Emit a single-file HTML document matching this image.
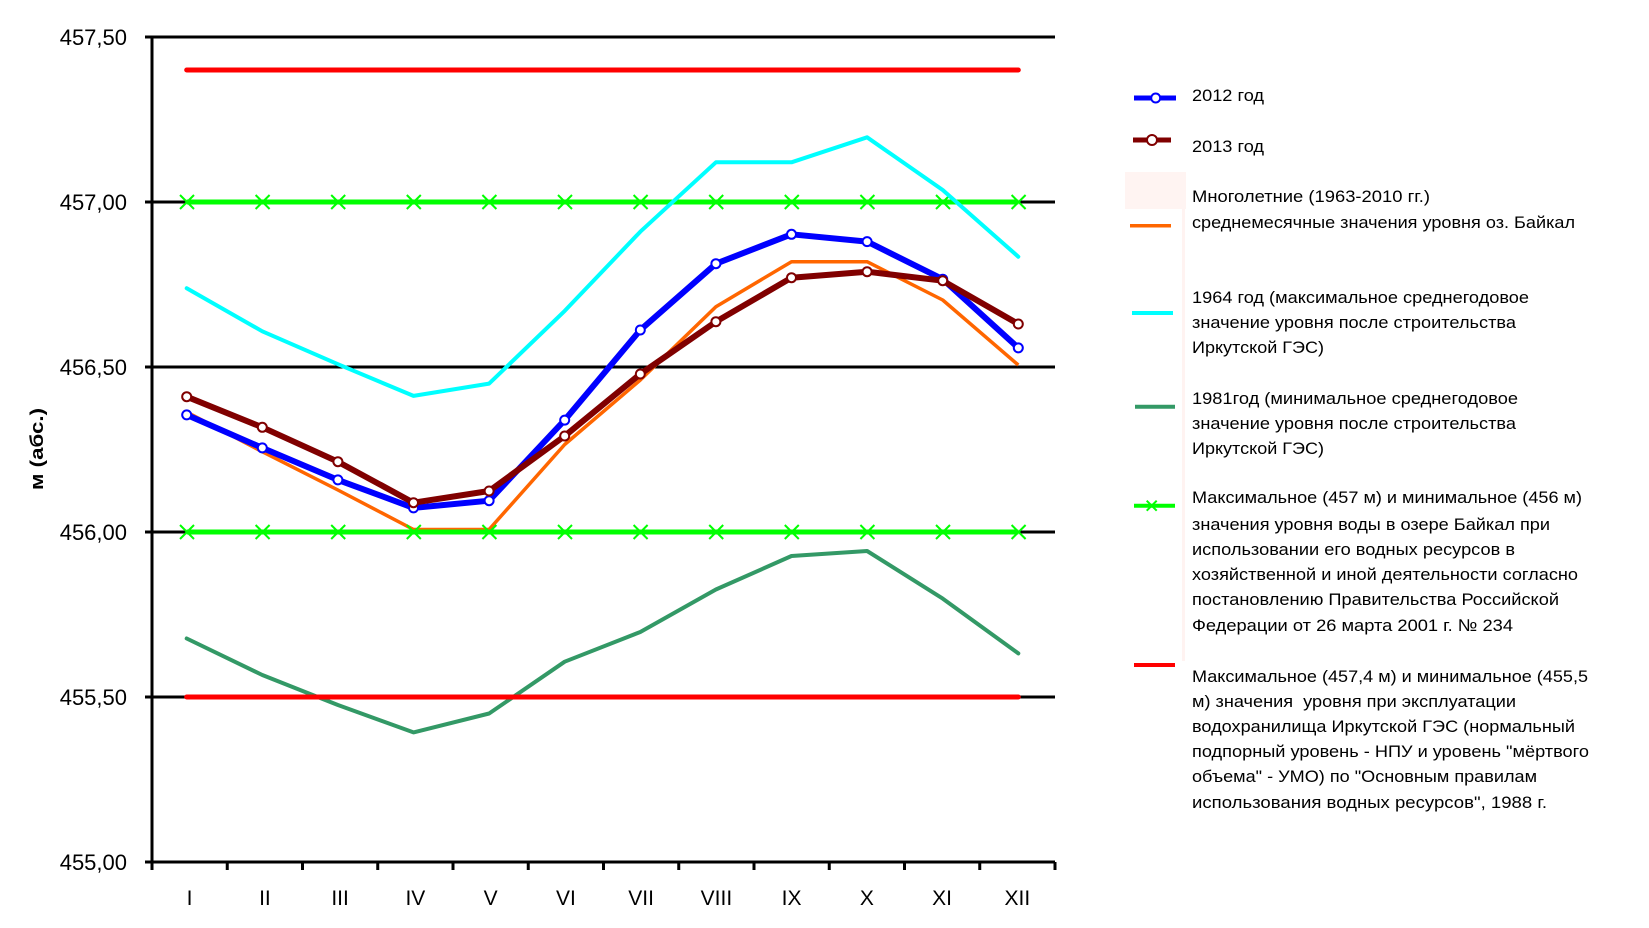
<!DOCTYPE html>
<html>
<head>
<meta charset="utf-8">
<style>
html,body{margin:0;padding:0;background:#fff;}
svg{display:block;}
text{font-family:"Liberation Sans",Arial,sans-serif;fill:#000;}
</style>
</head>
<body>
<svg width="1649" height="928" viewBox="0 0 1649 928" xmlns="http://www.w3.org/2000/svg">
<rect x="0" y="0" width="1649" height="928" fill="#fff"/>

<!-- gridlines -->
<g stroke="#000" stroke-width="3">
<line x1="145" y1="37" x2="1055" y2="37"/>
<line x1="145" y1="202" x2="1055" y2="202"/>
<line x1="145" y1="367" x2="1055" y2="367"/>
<line x1="145" y1="532" x2="1055" y2="532"/>
<line x1="145" y1="697" x2="1055" y2="697"/>
<line x1="145" y1="862" x2="1055" y2="862"/>
<line x1="152" y1="36" x2="152" y2="870"/>
</g>
<!-- x ticks -->
<g stroke="#000" stroke-width="3">
<line x1="152" y1="862" x2="152" y2="870"/>
<line x1="227.25" y1="862" x2="227.25" y2="870"/>
<line x1="302.5" y1="862" x2="302.5" y2="870"/>
<line x1="377.75" y1="862" x2="377.75" y2="870"/>
<line x1="453" y1="862" x2="453" y2="870"/>
<line x1="528.25" y1="862" x2="528.25" y2="870"/>
<line x1="603.5" y1="862" x2="603.5" y2="870"/>
<line x1="678.75" y1="862" x2="678.75" y2="870"/>
<line x1="754" y1="862" x2="754" y2="870"/>
<line x1="829.25" y1="862" x2="829.25" y2="870"/>
<line x1="904.5" y1="862" x2="904.5" y2="870"/>
<line x1="979.75" y1="862" x2="979.75" y2="870"/>
<line x1="1055" y1="862" x2="1055" y2="870"/>
</g>

<!-- y tick labels -->
<g font-size="22" text-anchor="end">
<text x="127" y="45">457,50</text>
<text x="127" y="210">457,00</text>
<text x="127" y="375">456,50</text>
<text x="127" y="540">456,00</text>
<text x="127" y="705">455,50</text>
<text x="127" y="870">455,00</text>
</g>

<!-- x labels -->
<g font-size="21" text-anchor="middle">
<text x="189.6" y="905">I</text>
<text x="264.9" y="905">II</text>
<text x="340.1" y="905">III</text>
<text x="415.4" y="905">IV</text>
<text x="490.6" y="905">V</text>
<text x="565.9" y="905">VI</text>
<text x="641.1" y="905">VII</text>
<text x="716.4" y="905">VIII</text>
<text x="791.6" y="905">IX</text>
<text x="866.9" y="905">X</text>
<text x="942.1" y="905">XI</text>
<text x="1017.4" y="905">XII</text>
</g>

<!-- y axis title -->
<text x="0" y="0" font-size="18" font-weight="bold" text-anchor="middle" transform="translate(43,449) rotate(-90)" textLength="82" lengthAdjust="spacingAndGlyphs">м (абс.)</text>

<!-- 1981 -->
<polyline fill="none" stroke="#339966" stroke-width="4" stroke-linejoin="round" stroke-linecap="round"
points="186.7,638.5 262.3,675 337.9,705 413.5,732.4 489.1,713.5 564.7,661.7 640.3,632 715.9,589.5 791.5,556 867.1,551 942.7,598.6 1018.3,653.4"/>

<!-- red limits -->
<g stroke="#ff0000" stroke-width="5" stroke-linecap="round">
<line x1="186.7" y1="70" x2="1018.3" y2="70"/>
<line x1="186.7" y1="697" x2="1018.3" y2="697"/>
</g>

<!-- orange -->
<polyline fill="none" stroke="#ff6600" stroke-width="3.5" stroke-linejoin="round"
points="186.7,412 262.3,451.7 337.9,490 413.5,529.5 489.1,529.5 564.7,444.5 640.3,380 715.9,306.7 791.5,261.7 867.1,261.7 942.7,300 1018.3,365"/>

<!-- lime -->
<g stroke="#00ff00" stroke-width="5">
<line x1="186.7" y1="202" x2="1018.3" y2="202"/>
<line x1="186.7" y1="532" x2="1018.3" y2="532"/>
</g>
<g stroke="#00ff00" stroke-width="2" fill="none" id="xm">
<path d="M180,195 l14,14 M194,195 l-14,14"/>
<path d="M255.6,195 l14,14 M269.6,195 l-14,14"/>
<path d="M331.2,195 l14,14 M345.2,195 l-14,14"/>
<path d="M406.8,195 l14,14 M420.8,195 l-14,14"/>
<path d="M482.4,195 l14,14 M496.4,195 l-14,14"/>
<path d="M558,195 l14,14 M572,195 l-14,14"/>
<path d="M633.6,195 l14,14 M647.6,195 l-14,14"/>
<path d="M709.2,195 l14,14 M723.2,195 l-14,14"/>
<path d="M784.8,195 l14,14 M798.8,195 l-14,14"/>
<path d="M860.4,195 l14,14 M874.4,195 l-14,14"/>
<path d="M936,195 l14,14 M950,195 l-14,14"/>
<path d="M1011.6,195 l14,14 M1025.6,195 l-14,14"/>
</g>
<use href="#xm" transform="translate(0,330)"/>

<!-- cyan -->
<polyline fill="none" stroke="#00ffff" stroke-width="4" stroke-linejoin="round" stroke-linecap="round"
points="186.7,288.2 262.3,331.3 337.9,364.2 413.5,395.9 489.1,383.6 564.7,310.9 640.3,231.7 715.9,162.3 791.5,162.3 867.1,137.3 942.7,190 1018.3,256.7"/>

<!-- 2012 blue -->
<polyline fill="none" stroke="#0000ff" stroke-width="6" stroke-linejoin="round"
points="186.7,414.9 262.3,447.9 337.9,479.9 413.5,507.9 489.1,500.7 564.7,420.1 640.3,330 715.9,263.7 791.5,234.3 867.1,241.6 942.7,279.2 1018.3,347.9"/>
<g fill="#fff" stroke="#0000ff" stroke-width="2">
<circle cx="186.7" cy="414.9" r="4.5"/><circle cx="262.3" cy="447.9" r="4.5"/><circle cx="337.9" cy="479.9" r="4.5"/>
<circle cx="413.5" cy="507.9" r="4.5"/><circle cx="489.1" cy="500.7" r="4.5"/><circle cx="564.7" cy="420.1" r="4.5"/>
<circle cx="640.3" cy="330" r="4.5"/><circle cx="715.9" cy="263.7" r="4.5"/><circle cx="791.5" cy="234.3" r="4.5"/>
<circle cx="867.1" cy="241.6" r="4.5"/><circle cx="942.7" cy="279.2" r="4.5"/><circle cx="1018.3" cy="347.9" r="4.5"/>
</g>

<!-- 2013 dark red -->
<polyline fill="none" stroke="#800000" stroke-width="6" stroke-linejoin="round"
points="186.7,396.7 262.3,427.3 337.9,461.7 413.5,502.7 489.1,491 564.7,436 640.3,374 715.9,321.7 791.5,277.7 867.1,271.7 942.7,280.7 1018.3,324"/>
<g fill="#fff" stroke="#800000" stroke-width="2">
<circle cx="186.7" cy="396.7" r="4.5"/><circle cx="262.3" cy="427.3" r="4.5"/><circle cx="337.9" cy="461.7" r="4.5"/>
<circle cx="413.5" cy="502.7" r="4.5"/><circle cx="489.1" cy="491" r="4.5"/><circle cx="564.7" cy="436" r="4.5"/>
<circle cx="640.3" cy="374" r="4.5"/><circle cx="715.9" cy="321.7" r="4.5"/><circle cx="791.5" cy="277.7" r="4.5"/>
<circle cx="867.1" cy="271.7" r="4.5"/><circle cx="942.7" cy="280.7" r="4.5"/><circle cx="1018.3" cy="324" r="4.5"/>
</g>

<!-- legend -->
<rect x="1125" y="172" width="61" height="37" fill="#fff4f2"/>
<rect x="1182" y="209" width="3" height="452" fill="#fff3f1"/>

<line x1="1134" y1="98" x2="1176" y2="98" stroke="#0000ff" stroke-width="5"/>
<circle cx="1155.7" cy="98" r="4.5" fill="#fff" stroke="#0000ff" stroke-width="2"/>
<line x1="1133" y1="140" x2="1171" y2="140" stroke="#800000" stroke-width="5"/>
<circle cx="1152" cy="140" r="5" fill="#fff" stroke="#800000" stroke-width="2"/>
<line x1="1130" y1="225.7" x2="1171" y2="225.7" stroke="#ff6600" stroke-width="3.5"/>
<line x1="1132" y1="313" x2="1173" y2="313" stroke="#00ffff" stroke-width="4"/>
<line x1="1135" y1="406.7" x2="1175" y2="406.7" stroke="#339966" stroke-width="4"/>
<line x1="1134" y1="505.7" x2="1175" y2="505.7" stroke="#00ff00" stroke-width="4"/>
<path d="M1146.7,500.7 l10,10 M1156.7,500.7 l-10,10" stroke="#00ff00" stroke-width="2"/>
<line x1="1134" y1="665" x2="1175" y2="665" stroke="#ff0000" stroke-width="4"/>

<g font-size="17" lengthAdjust="spacingAndGlyphs">
<text x="1192" y="101" textLength="72" lengthAdjust="spacingAndGlyphs">2012 год</text>
<text x="1192" y="152" textLength="72" lengthAdjust="spacingAndGlyphs">2013 год</text>
<text x="1192" y="202" textLength="238" lengthAdjust="spacingAndGlyphs">Многолетние (1963-2010 гг.)</text>
<text x="1192" y="228" textLength="383" lengthAdjust="spacingAndGlyphs">среднемесячные значения уровня оз. Байкал</text>
<text x="1192" y="303" textLength="337" lengthAdjust="spacingAndGlyphs">1964 год (максимальное среднегодовое</text>
<text x="1192" y="328" textLength="324" lengthAdjust="spacingAndGlyphs">значение уровня после строительства</text>
<text x="1192" y="353" textLength="132" lengthAdjust="spacingAndGlyphs">Иркутской ГЭС)</text>
<text x="1192" y="404" textLength="326" lengthAdjust="spacingAndGlyphs">1981год (минимальное среднегодовое</text>
<text x="1192" y="429" textLength="324" lengthAdjust="spacingAndGlyphs">значение уровня после строительства</text>
<text x="1192" y="454" textLength="132" lengthAdjust="spacingAndGlyphs">Иркутской ГЭС)</text>
<text x="1192" y="503" textLength="390" lengthAdjust="spacingAndGlyphs">Максимальное (457 м) и минимальное (456 м)</text>
<text x="1192" y="530" textLength="358" lengthAdjust="spacingAndGlyphs">значения уровня воды в озере Байкал при</text>
<text x="1192" y="555" textLength="323" lengthAdjust="spacingAndGlyphs">использовании его водных ресурсов в</text>
<text x="1192" y="580" textLength="386" lengthAdjust="spacingAndGlyphs">хозяйственной и иной деятельности согласно</text>
<text x="1192" y="605" textLength="367" lengthAdjust="spacingAndGlyphs">постановлению Правительства Российской</text>
<text x="1192" y="631" textLength="321" lengthAdjust="spacingAndGlyphs">Федерации от 26 марта 2001 г. № 234</text>
<text x="1192" y="682" textLength="396" lengthAdjust="spacingAndGlyphs">Максимальное (457,4 м) и минимальное (455,5</text>
<text x="1192" y="707" textLength="324" lengthAdjust="spacingAndGlyphs" xml:space="preserve">м) значения  уровня при эксплуатации</text>
<text x="1192" y="732" textLength="383" lengthAdjust="spacingAndGlyphs">водохранилища Иркутской ГЭС (нормальный</text>
<text x="1192" y="757" textLength="397" lengthAdjust="spacingAndGlyphs">подпорный уровень - НПУ и уровень "мёртвого</text>
<text x="1192" y="782" textLength="345" lengthAdjust="spacingAndGlyphs">объема" - УМО) по "Основным правилам</text>
<text x="1192" y="808" textLength="355" lengthAdjust="spacingAndGlyphs">использования водных ресурсов", 1988 г.</text>
</g>
</svg>
</body>
</html>
